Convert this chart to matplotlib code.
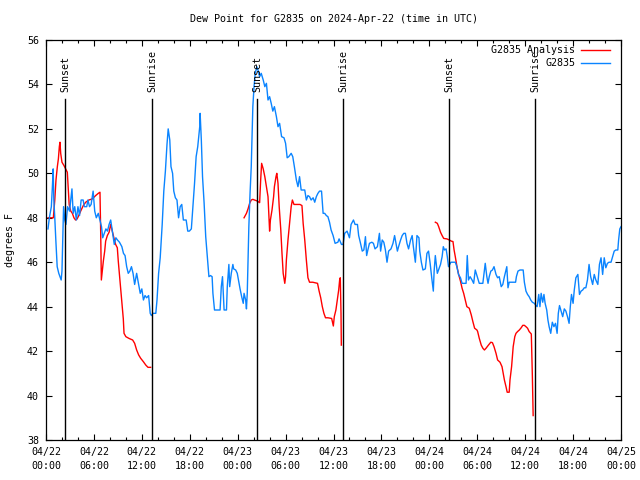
import numpy as np
import matplotlib
matplotlib.use("Agg")
import matplotlib.pyplot as plt
import matplotlib.transforms as mtransforms

# ---- data (hours since 2024-04-22 00:00 UTC, degrees F) ----
obs_hours = [0.25, 0.42, 0.67, 0.8, 0.9, 0.98, 1.1, 1.23, 1.4, 1.6, 1.9, 2.0, 2.1, 2.2, 2.35, 2.5, 2.7, 2.95,
             3.25, 3.4, 3.6, 3.8, 4.0, 4.2, 4.4, 4.65, 4.8, 5.1, 5.25, 5.45, 5.65, 5.9, 6.1, 6.3, 6.55, 6.75,
             6.95, 7.1, 7.3, 7.5, 7.7, 7.9, 8.1, 8.35, 8.55, 8.75, 8.95, 9.2, 9.5, 9.7, 9.9, 10.1, 10.3, 10.5,
             10.7, 10.9, 11.1, 11.35, 11.55, 11.8, 12.0, 12.2, 12.4, 12.6, 12.85, 13.05, 13.2, 13.4, 13.75,
             13.9, 14.1, 14.3, 14.55, 14.75, 14.95, 15.15, 15.3, 15.5, 15.65, 15.85, 16.0, 16.2, 16.4, 16.6,
             16.8, 17.0, 17.2, 17.55, 17.75, 17.95, 18.2, 18.4, 18.6, 18.8, 19.0, 19.25, 19.3, 19.45, 19.6,
             19.8, 20.0, 20.2, 20.4, 20.6, 20.8, 20.9, 21.1, 21.5, 21.8, 21.95, 22.1, 22.3, 22.6, 22.7, 22.9,
             23.0, 23.2, 23.4, 23.5, 23.75, 23.95, 24.1, 24.3, 24.5, 24.7, 24.8, 25.0, 25.1, 25.2, 25.3, 25.4,
             25.55, 25.7, 25.8, 25.9, 26.05, 26.2, 26.4, 26.55, 26.75, 26.95, 27.2, 27.4, 27.6, 27.8, 28.0,
             28.2, 28.4, 28.6, 28.85, 29.05, 29.25, 29.5, 29.8, 30.0, 30.2, 30.4, 30.7, 30.9, 31.1, 31.35,
             31.55, 31.75, 31.95, 32.2, 32.4, 32.6, 32.8, 33.0, 33.2, 33.45, 33.65, 33.85, 34.05, 34.25, 34.5,
             34.7, 34.9, 35.1, 35.3, 35.5, 35.7, 35.95, 36.2, 36.55, 36.7, 37.0, 37.2, 37.4, 37.7, 38.0, 38.2,
             38.5, 38.7, 39.0, 39.15, 39.35, 39.6, 39.8, 40.0, 40.15, 40.3, 40.5, 40.8, 41.0, 41.2, 41.5,
             41.75, 41.9, 42.1, 42.3, 42.5, 42.7, 42.9, 43.2, 43.45, 43.65, 43.8, 44.0, 44.15, 44.4, 44.6,
             44.8, 45.0, 45.2, 45.4, 45.65, 45.85, 46.0, 46.25, 46.45, 46.7, 46.8, 47.0, 47.2, 47.5, 47.7,
             47.9, 48.1, 48.3, 48.5, 48.6, 48.75, 49.0, 49.2, 49.4, 49.6, 49.75, 49.9, 50.1, 50.25, 50.4,
             50.7, 50.9, 51.25, 51.45, 51.65, 51.9, 52.1, 52.4, 52.6, 52.75, 52.9, 53.1, 53.35, 53.55, 53.75,
             54.05, 54.25, 54.7, 54.9, 55.0, 55.2, 55.35, 55.5, 55.7, 55.9, 56.1, 56.35, 56.55, 56.75, 57.0,
             57.2, 57.4, 57.6, 57.7, 57.85, 58.0, 58.2, 58.5, 58.8, 58.9, 59.1, 59.35, 59.6, 59.75, 59.9,
             60.1, 60.3, 60.5, 60.7, 60.9, 61.15, 61.35, 61.5, 61.7, 61.85, 62.0, 62.2, 62.35, 62.5, 62.7,
             62.85, 63.0, 63.2, 63.4, 63.6, 63.8, 64.0, 64.15, 64.3, 64.5, 64.7, 64.9, 65.1, 65.3, 65.5,
             65.65, 65.8, 66.0, 66.15, 66.35, 66.6, 66.8, 67.0, 67.2, 67.4, 67.6, 67.8, 68.0, 68.2, 68.45,
             68.65, 68.85, 69.1, 69.3, 69.5, 69.7, 69.9, 70.1, 70.3, 70.5, 70.75, 70.95, 71.15, 71.35, 71.6,
             71.7, 71.85, 72.0]
obs_values = [47.5, 48.0, 48.5, 49.4, 50.2, 48.8, 48.0, 47.0, 45.8, 45.5, 45.2, 45.6, 47.0, 48.5, 47.9, 47.7, 48.5, 48.3,
              49.3, 48.2, 48.5, 47.9, 48.5, 48.1, 48.8, 48.8, 48.5, 48.5, 48.8, 48.5, 48.6, 49.2, 48.3, 48.0, 48.2, 47.9,
              47.6, 47.1, 47.3, 47.5, 47.4, 47.7, 47.9, 47.3, 46.8, 47.1, 47.0, 46.9, 46.7, 46.4, 46.3, 45.8, 45.5, 45.6,
              45.8, 45.5, 45.0, 45.5, 45.1, 44.6, 44.8, 44.3, 44.5, 44.4, 44.5, 43.7, 43.6, 43.7, 43.7,
              44.3, 45.5, 46.2, 47.7, 49.2, 50.1, 51.3, 52.0, 51.5, 50.3, 50.0, 49.2, 48.9, 48.8, 48.0,
              48.5, 48.6, 47.9, 47.9, 47.4, 47.4, 47.5, 48.5, 49.55, 50.75, 51.2, 52.1, 52.7, 51.5, 49.85,
              48.65, 47.15, 46.25, 45.35, 45.4, 45.35, 44.6, 43.85, 43.85, 43.85, 44.9, 45.35, 43.85, 43.85, 44.9, 45.9,
              44.9, 45.5, 45.9, 45.7, 45.65, 45.5, 45.2, 44.8, 44.45, 44.15, 44.6, 44.3, 43.9, 44.6, 46.1, 47.6,
              49.1, 50.3, 51.65, 53.0, 53.9, 54.5, 54.8, 54.65, 54.35, 54.5, 54.2, 53.9, 54.05, 53.3, 53.45,
              53.15, 52.8, 53.0, 52.55, 52.1, 52.25, 51.65, 51.6, 51.35, 50.7, 50.75, 50.9, 50.75, 50.3, 49.7,
              49.4, 49.85, 49.25, 49.25, 49.25, 48.8, 49.0, 48.95, 48.8, 48.9, 48.7, 48.95, 49.1, 49.2, 49.2,
              48.2, 48.2, 48.1, 48.05, 47.8, 47.45, 47.2, 46.85, 46.9, 47.05, 46.8, 46.8, 47.3, 47.4, 47.1, 47.7,
              47.9, 47.7, 47.7, 47.2, 46.9, 46.5, 46.55, 47.15, 46.3, 46.55, 46.85, 46.9, 46.85, 46.6, 46.7,
              47.3, 46.5, 47.0, 46.9, 46.55, 46.0, 46.5, 46.6, 46.85, 47.2, 46.9, 46.5, 46.7, 47.0, 47.2,
              47.3, 47.3, 46.85, 46.6, 47.0, 47.2, 46.7, 46.0, 47.2, 47.1, 46.5, 46.0, 45.65, 45.7, 46.4,
              46.5, 45.95, 45.3, 44.7, 45.6, 46.3, 45.5, 45.7, 45.9, 46.25, 46.7, 46.55, 46.6, 46.25, 45.8,
              46.0, 46.0, 46.0, 45.8, 45.45, 45.3, 45.05, 45.05, 45.05, 46.3, 45.2, 45.35, 45.2, 45.05, 45.65,
              45.3, 45.05, 45.05, 45.65, 45.95, 45.35, 45.05, 45.35, 45.6, 45.65, 45.8, 45.45, 45.3, 45.35, 44.9,
              45.0, 45.35, 45.65, 45.8, 44.85, 45.1, 45.1, 45.1, 45.1, 45.35, 45.6, 45.65, 45.65, 45.65, 45.1,
              44.7, 44.55, 44.45, 44.3, 44.2, 44.15, 44.05, 44.0, 44.55, 44.0, 44.6, 44.2, 44.55, 44.15, 43.85,
              43.4, 43.1, 42.8, 43.3, 43.1, 43.25, 42.8, 43.7, 44.05, 43.8, 43.55, 43.9, 43.8, 43.55, 43.25,
              44.0, 44.55, 44.15, 44.75, 45.3, 45.45, 44.55, 44.7, 44.75, 44.85, 44.85, 45.2, 45.9, 45.35, 45.0,
              45.45, 45.2, 45.0, 45.9, 46.2, 45.45, 46.2, 45.75, 45.95, 46.0, 46.0, 46.25, 46.5, 46.55, 46.55,
              47.0, 47.5, 47.6]

ana_hours = [0.25, 0.7, 0.92, 1.1, 1.25, 1.42, 1.55, 1.67, 1.75, 1.84, 2.0, 2.25, 2.46, 2.67, 2.8, 2.9, 3.1,
             3.3, 3.5, 3.7, 3.9, 4.1, 4.34, 4.67, 4.97, 5.38, 5.8, 6.22, 6.55, 6.76, 6.85, 6.93, 7.05, 7.18,
             7.35, 7.47, 7.68, 7.9, 8.1, 8.3, 8.5, 8.72, 8.93, 9.05, 9.27, 9.43, 9.56, 9.68, 9.77, 10.0,
             10.4, 10.85, 11.1, 11.35, 11.6, 11.85, 12.2, 12.5, 12.77, 13.1,
             np.nan,
             24.8, 25.1, 25.3, 25.5, 25.7, 25.9, 26.1, 26.35, 26.55, 26.75, 26.88, 27.0, 27.2, 27.4, 27.6,
             27.8, 27.9, 28.0, 28.1, 28.3, 28.5, 28.6, 28.8, 28.9, 29.05, 29.2, 29.4, 29.55, 29.7, 29.9, 30.0,
             30.1, 30.3, 30.5, 30.7, 30.85, 31.05, 31.35, 31.8, 32.05, 32.2, 32.4, 32.6, 32.8, 33.0, 33.4,
             34.0, 34.2, 34.4, 34.6, 34.8, 35.0, 35.3, 35.77, 35.98, 36.1, 36.3, 36.48, 36.65, 36.77, 36.85,
             36.94, 36.98,
             np.nan,
             48.75, 49.0, 49.17, 49.4, 49.6, 49.8, 50.2, 50.5, 50.75, 50.96, 51.1, 51.25, 51.46, 51.67, 51.9,
             52.1, 52.3, 52.5, 52.7, 53.0, 53.25, 53.45, 53.67, 53.96, 54.05, 54.25, 54.5, 54.7, 54.9, 55.1,
             55.4, 55.7, 55.9, 56.1, 56.35, 56.55, 56.85, 57.1, 57.25, 57.4, 57.6, 57.75, 58.0, 58.1, 58.3,
             58.5, 58.7, 58.85, 59.05, 59.27, 59.5, 59.7, 59.9, 60.1, 60.3, 60.5, 60.77, 60.9, 61.0]
ana_values = [48.0, 48.0, 48.0, 48.8, 49.7, 50.3, 50.65, 51.2, 51.4, 50.9, 50.5, 50.35, 50.2, 50.05, 49.2, 48.6, 48.3,
              48.2, 48.0, 47.9, 47.95, 48.1, 48.3, 48.55, 48.7, 48.8, 48.85, 49.0, 49.1, 49.15, 47.3, 45.2, 45.6, 46.05,
              46.5, 46.95, 47.2, 47.35, 47.7, 47.4, 47.1, 46.8, 46.65, 46.05, 45.15, 44.55, 43.95, 43.45, 42.8, 42.65,
              42.57, 42.5, 42.35, 42.05, 41.83, 41.68, 41.52, 41.37, 41.27, 41.27,
              np.nan,
              48.0, 48.2, 48.4, 48.65, 48.8, 48.83, 48.8, 48.77, 48.73, 48.68, 49.7, 50.45, 50.2, 49.85, 49.4,
              48.95, 48.2, 47.4, 47.9, 48.35, 48.95, 49.4, 49.85, 50.0, 49.55, 48.5, 47.45, 46.4, 45.5, 45.05, 45.35,
              46.1, 47.0, 47.75, 48.5, 48.8, 48.6, 48.6, 48.6, 48.55, 47.75, 47.0, 46.1, 45.3, 45.1, 45.1,
              45.05, 44.7, 44.4, 44.0, 43.7, 43.5, 43.5, 43.47, 43.13, 43.55, 43.85, 44.3, 44.75, 45.2, 45.3,
              43.7, 42.27,
              np.nan,
              47.8, 47.75, 47.6, 47.35, 47.2, 47.07, 47.05, 47.0, 46.95, 46.93, 46.55, 46.25, 45.8, 45.45, 45.15,
              44.83, 44.6, 44.3, 44.0, 43.93, 43.63, 43.33, 43.03, 42.95, 42.88, 42.58, 42.27, 42.13, 42.05, 42.13,
              42.27, 42.4, 42.38, 42.2, 41.9, 41.6, 41.5, 41.3, 41.0, 40.7, 40.4, 40.15, 40.15, 40.7, 41.3,
              42.2, 42.65, 42.8, 42.88, 42.95, 43.05, 43.16, 43.16, 43.1, 43.03, 42.88, 42.77, 40.9, 39.1]

sun_hours = [2.42, 13.31, 26.46, 37.23, 50.5, 61.27]
sun_labels = ["Sunset", "Sunrise", "Sunset", "Sunrise", "Sunset", "Sunrise"]

x_tick_hours = [0, 6, 12, 18, 24, 30, 36, 42, 48, 54, 60, 66, 72]
x_tick_labels = ["04/22\n00:00", "04/22\n06:00", "04/22\n12:00", "04/22\n18:00",
                 "04/23\n00:00", "04/23\n06:00", "04/23\n12:00", "04/23\n18:00",
                 "04/24\n00:00", "04/24\n06:00", "04/24\n12:00", "04/24\n18:00",
                 "04/25\n00:00"]
y_ticks = [38, 40, 42, 44, 46, 48, 50, 52, 54, 56]

# ---- style ----
FONT = "DejaVu Sans Mono"
FS = 7.2
plt.rcParams["font.family"] = FONT
plt.rcParams["font.size"] = FS

RED = "#ff0000"
BLUE = "#0a84ff"

fig = plt.figure(figsize=(6.4, 4.8), dpi=100)
L, R, T, B = 46, 621, 40, 440
ax = fig.add_axes([L / 640, 1 - B / 480, (R - L) / 640, (B - T) / 480])

ax.plot(ana_hours, ana_values, color=RED, lw=1.0)
ax.plot(obs_hours, obs_values, color=BLUE, lw=1.0)

ax.set_xlim(0, 72)
ax.set_ylim(38, 56)

trans = mtransforms.blended_transform_factory(ax.transData, ax.transAxes)
line_top = (B - 99) / (B - T)
text_bottom = (B - 92) / (B - T)
for h, lab in zip(sun_hours, sun_labels):
    ax.plot([h, h], [0, line_top], color="black", lw=1.0, transform=trans)
    ax.text(h, text_bottom, lab, rotation=90, ha="center", va="bottom",
            transform=trans, fontsize=FS)

ax.set_xticks(x_tick_hours)
ax.set_xticklabels(x_tick_labels, linespacing=1.5)
ax.set_xticks(np.arange(0, 73, 2), minor=True)
ax.set_yticks(y_ticks)
ax.set_yticklabels([str(v) for v in y_ticks])

ax.tick_params(which="both", direction="in", top=True, right=True, width=0.8, colors="black")
ax.tick_params(which="major", length=4.5)
ax.tick_params(which="minor", length=2.5)
ax.tick_params(axis="x", which="major", pad=5)
ax.tick_params(axis="y", which="major", pad=5)
for s in ax.spines.values():
    s.set_linewidth(0.9)

# legend (manual, right-aligned text like gnuplot)
W = R - L
H = B - T
for i, (lab, col) in enumerate([("G2835 Analysis", RED), ("G2835", BLUE)]):
    yy = (B - (50 + 13 * i)) / H
    ax.text((575 - L) / W, yy, lab, ha="right", va="center", transform=ax.transAxes, fontsize=FS)
    ax.plot([(581 - L) / W, (610 - L) / W], [yy, yy], color=col, lw=1.0, transform=ax.transAxes,
            clip_on=False)

fig.text((L + R) / 2 / 640, 1 - 19 / 480, "Dew Point for G2835 on 2024-Apr-22 (time in UTC)",
         ha="center", va="center", fontsize=FS)
fig.text(10 / 640, 1 - 240 / 480, "degrees F", rotation=90, ha="center", va="center", fontsize=FS)

fig.savefig("out.png", dpi=100)
